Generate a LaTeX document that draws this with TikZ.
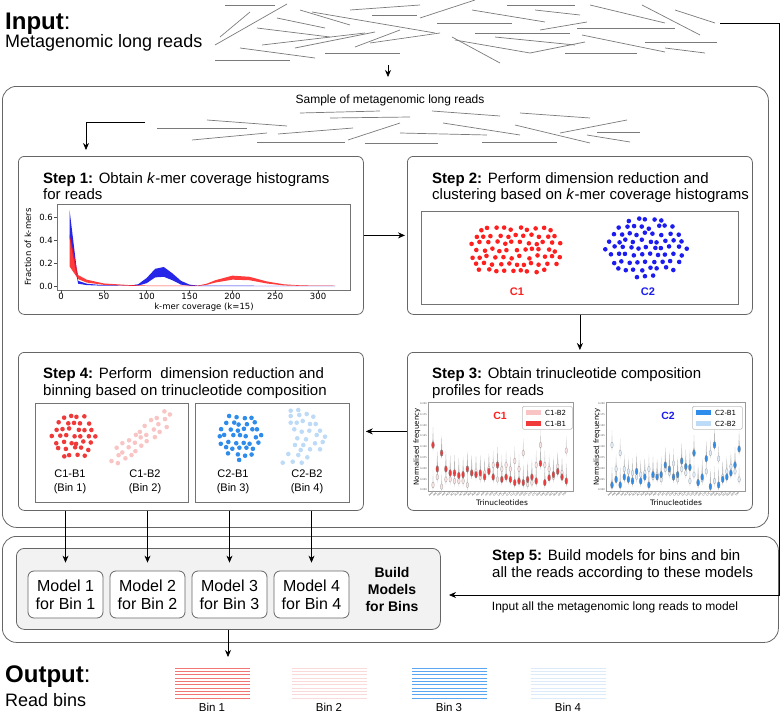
\documentclass[tikz,border=0pt]{standalone}
\usepackage{fontspec}
\setmainfont{Liberation Sans}
\newfontfamily\plotfont{DejaVu Sans}
\usetikzlibrary{arrows.meta,positioning,calc}

\definecolor{boxgrey}{HTML}{666666}
\definecolor{readgrey}{HTML}{7A7A7A}
\definecolor{cred}{HTML}{FF1F1F}
\definecolor{cblue}{HTML}{1C1CF0}
\definecolor{bred}{HTML}{F03A3A}
\definecolor{bpink}{HTML}{F8C4C4}
\definecolor{bblue}{HTML}{2E8CEB}
\definecolor{blight}{HTML}{BDDAF6}
\definecolor{buildfill}{HTML}{F2F2F2}

\tikzset{
  bigbox/.style={draw=boxgrey, line width=0.8pt, rounded corners=14pt, anchor=north west, inner sep=0pt},
  stepbox/.style={draw=boxgrey, line width=0.8pt, rounded corners=6pt, anchor=north west, inner sep=0pt, minimum width=345pt, minimum height=158pt},
  panel/.style={draw=black!55, line width=0.7pt, anchor=north west, inner sep=0pt},
  modelbox/.style={draw=boxgrey, line width=0.8pt, fill=white, rounded corners=6pt, minimum width=75pt, minimum height=47pt, align=center, inner sep=0pt, font={\fontsize{16}{18}\selectfont}},
  steptitle/.style={anchor=base west, inner sep=0pt, font={\fontsize{15}{17}\selectfont}},
  read/.style={draw=readgrey, line width=0.7pt},
  arr/.style={-{Stealth[length=7pt,width=6pt]}, line width=0.7pt, draw=black},
  speck/.style={fill=#1},
  ticklbl/.style={font={\plotfont\fontsize{8.5}{10}\selectfont}, inner sep=1pt},
  tinylbl/.style={font={\plotfont\fontsize{2.4}{3}\selectfont}, inner sep=0.3pt, text=black!70},
  smalllbl/.style={font={\plotfont\fontsize{7}{8}\selectfont}, inner sep=0pt},
  binlbl/.style={align=center, font={\fontsize{11}{14}\selectfont}},
}

% scatter of dots on a jittered hex grid: rx, ry, spacing, exponent, colour
\newcommand\dotblob[5]{%
  \foreach \gx in {-7,...,7}{
    \foreach \gy in {-7,...,7}{
      \pgfmathsetmacro\px{(\gx+0.5*abs(mod(\gy,2)))*#3+1.6*rand}
      \pgfmathsetmacro\py{\gy*#3*0.87+1.6*rand}
      \pgfmathtruncatemacro\inside{(abs(\px)/#1)^#4+(abs(\py)/#2)^#4<=1}
      \ifnum\inside=1 \fill[speck=#5] (\px,\py) circle[radius=2.3];\fi
    }}}

\begin{document}
\begin{tikzpicture}[x=1pt,y=-1pt]
\useasboundingbox (0,0) rectangle (780,712);
\pgfmathsetseed{11}

% input
\node[anchor=base west, inner sep=0pt, font={\fontsize{24}{26}\selectfont}] (inputhead) at (5,30) {\textbf{Input}:};
\node[anchor=base west, inner sep=0pt, font={\fontsize{18}{20}\selectfont}] (inputsub) at (5,47) {Metagenomic long reads};
\foreach \a/\b in {{225,5}/{275,5},{287,4}/{215,45},{250,12}/{220,37},{277,18}/{325,28},{300,10}/{350,25},
  {312,12}/{435,33},{350,10}/{420,5},{372,15}/{417,15},{420,18}/{475,0},{257,28}/{330,37},{262,45}/{365,33},
  {240,48}/{315,58},{215,60}/{290,60},{295,48}/{375,32},{325,53}/{400,53},{355,47}/{400,30},{370,43}/{440,33},
  {437,23}/{512,23},{452,37}/{500,63},{455,40}/{530,53},{472,10}/{545,22},{475,33}/{570,33},{495,37}/{575,45},
  {507,5}/{575,5},{535,10}/{580,15},{540,30}/{587,22},{530,53}/{585,42},{565,53}/{637,53},{577,28}/{675,28},
  {590,5}/{665,23},{582,35}/{665,52},{642,5}/{700,35},{645,42}/{717,42},{675,10}/{715,23},{665,48}/{705,53}}
  \draw[read] (\a) -- (\b);
\coordinate (inputend) at (720,23);
\coordinate (railtop) at (779,23);
\coordinate (readsbot) at (388,65);

% main box
\node[bigbox, minimum width=766pt, minimum height=441pt] (main) at (2,86) {};
\node[font={\fontsize{12}{14}\selectfont}] (sampletxt) at (390,100) {Sample of metagenomic long reads};
\foreach \a/\b in {{157,128}/{247,128},{207,120}/{287,126},{192,140}/{267,133},{257,142}/{345,142},
  {278,134}/{353,128},{348,140}/{400,123},{365,143}/{438,143},{400,133}/{487,135},{443,123}/{520,135},
  {482,142}/{557,142},{515,125}/{590,143},{560,133}/{627,120},{597,132}/{640,132},{587,135}/{630,142},
  {300,113}/{380,111},{330,118}/{410,117},{432,111}/{500,116},{520,113}/{590,118}}
  \draw[read] (\a) -- (\b);
\coordinate (samplestart) at (145,122);
\coordinate (s1in) at (86,150);

% step 1
\node[stepbox] (s1) at (18,156) {};
\node[steptitle] (t1a) at (43,183) {\textbf{Step 1:} Obtain \textit{k}-mer coverage histograms};
\node[steptitle] (t1b) at (43,199) {for reads};
\node[panel, minimum width=293pt, minimum height=86pt] (p1) at (57,204) {};
\begin{scope}[shift={(61,286)}, xscale=0.857, yscale=-115]
  \fill[blue!90!black, opacity=0.85] (10,0.66) -- (20,0.045) -- (30,0.02) -- (50,0.006) -- (80,0.003) -- (90,0.015)
    -- (100,0.07) -- (110,0.15) -- (120,0.165) -- (130,0.11) -- (140,0.045) -- (150,0.012) -- (160,0.003) -- (320,0.001)
    -- (320,0) -- (160,0) -- (150,0.002) -- (140,0.012) -- (130,0.05) -- (120,0.08) -- (110,0.075) -- (100,0.025)
    -- (90,0.003) -- (80,0) -- (50,0.002) -- (30,0.008) -- (20,0.02) -- (10,0.42) -- cycle;
  \fill[red!90, opacity=0.85] (10,0.45) -- (20,0.095) -- (30,0.055) -- (50,0.022) -- (80,0.008) -- (100,0.004) -- (160,0.004)
    -- (170,0.02) -- (180,0.05) -- (200,0.09) -- (220,0.08) -- (240,0.04) -- (260,0.015) -- (280,0.005) -- (320,0.002)
    -- (320,0) -- (280,0.001) -- (260,0.005) -- (240,0.022) -- (220,0.05) -- (200,0.055) -- (180,0.03) -- (170,0.01)
    -- (160,0) -- (100,0) -- (80,0.002) -- (50,0.01) -- (30,0.03) -- (20,0.06) -- (10,0.17) -- cycle;
\end{scope}
\foreach \v [count=\i] in {0.0,0.2,0.4,0.6}{
  \draw[black!70, line width=0.5pt] (57,{286-115*\v}) -- (54,{286-115*\v});
  \node[ticklbl, anchor=east] (y1\i) at (54,{286-115*\v}) {\v};
}
\foreach \c [count=\i] in {0,50,100,150,200,250,300}{
  \draw[black!70, line width=0.5pt] ({61+0.857*\c},290) -- ({61+0.857*\c},293);
  \node[ticklbl, anchor=north] (x1\i) at ({61+0.857*\c},292) {\c};
}
\node[ticklbl, rotate=90] (ylab1) at (28,247) {Fraction of k-mers};
\node[ticklbl] (xlab1) at (204,307) {k-mer coverage (k=15)};

% step 2
\node[stepbox] (s2) at (407,156) {};
\node[steptitle] (t2a) at (432,183) {\textbf{Step 2:} Perform dimension reduction and};
\node[steptitle] (t2b) at (432,199) {clustering based on \textit{k}-mer coverage histograms};
\node[panel, minimum width=317pt, minimum height=93pt] (p2) at (421,211) {};
\begin{scope}[shift={(516,250)}] \dotblob{47}{24}{8}{4}{cred} \end{scope}
\begin{scope}[shift={(646,248)}] \dotblob{42}{30}{8}{2}{cblue} \end{scope}
\node[text=cred, font={\fontsize{11}{12}\selectfont\bfseries}] (c1lbl) at (517,292) {C1};
\node[text=cblue, font={\fontsize{11}{12}\selectfont\bfseries}] (c2lbl) at (648,292) {C2};

% step 3
\node[stepbox] (s3) at (407,352) {};
\node[steptitle] (t3a) at (432,378) {\textbf{Step 3:} Obtain trinucleotide composition};
\node[steptitle] (t3b) at (432,395) {profiles for reads};
\node[panel, draw=black!40, minimum width=145pt, minimum height=89pt] (p3a) at (428,402) {};
\node[panel, draw=black!40, minimum width=139pt, minimum height=89pt] (p3b) at (606,402) {};
\begin{scope}[shift={(433,489)}]
\foreach \b/\a [count=\i from 0] in {.05/.55,.15/.25,.03/.45,.12/.25,.12/.2,.1/.2,.1/.17,.1/.18,.05/.25,.2/.2,.22/.18,
  .15/.2,.2/.15,.25/.22,.3/.15,.12/.3,.25/.12,.3/.15,.25/.12,.35/.08,.25/.1,.45/.08,.06/.12,.08/.15,.3/.1,.55/.32,
  .3/.08,.25/.14,.15/.18,.28/.22,.2/.15,.48/.1}{
  \pgfmathsetmacro\vx{\i*4.3}
  \fill[black!18] (\vx,{-\b*80+6}) -- (\vx+0.6,{-\b*80}) -- (\vx,{-\b*80-15}) -- (\vx-0.6,{-\b*80}) -- cycle;
  \fill[black!28] (\vx,{-\a*80+6}) -- (\vx+0.7,{-\a*80}) -- (\vx,{-\a*80-18}) -- (\vx-0.7,{-\a*80}) -- cycle;
  \filldraw[fill=bpink!50, draw=black!35, line width=0.3pt] (\vx,{-\b*80}) ellipse[x radius=1.3, y radius=2.8];
  \filldraw[fill=bred, draw=black!50, line width=0.3pt] (\vx,{-\a*80}) ellipse[x radius=1.4, y radius=3.3];
}
\end{scope}
\begin{scope}[shift={(612,489)}]
\foreach \b/\a [count=\i from 0] in {.55/.05,.25/.12,.45/.05,.25/.15,.22/.12,.2/.1,.15/.22,.18/.1,.2/.15,.25/.05,.15/.18,
  .18/.15,.12/.18,.25/.3,.2/.25,.32/.15,.12/.18,.25/.35,.2/.28,.1/.27,.18/.45,.08/.08,.12/.15,.22/.38,.45/.03,.1/.55,
  .38/.05,.15/.12,.22/.15,.28/.2,.22/.3,.12/.5}{
  \pgfmathsetmacro\vx{\i*4.1}
  \fill[black!18] (\vx,{-\b*80+6}) -- (\vx+0.6,{-\b*80}) -- (\vx,{-\b*80-15}) -- (\vx-0.6,{-\b*80}) -- cycle;
  \fill[black!28] (\vx,{-\a*80+6}) -- (\vx+0.7,{-\a*80}) -- (\vx,{-\a*80-18}) -- (\vx-0.7,{-\a*80}) -- cycle;
  \filldraw[fill=blight!50, draw=black!35, line width=0.3pt] (\vx,{-\b*80}) ellipse[x radius=1.3, y radius=2.8];
  \filldraw[fill=bblue, draw=black!50, line width=0.3pt] (\vx,{-\a*80}) ellipse[x radius=1.4, y radius=3.3];
}
\end{scope}
\foreach \t [count=\i from 0] in {AAA,AAC,AAG,AAT,ACA,ACC,ACG,ACT,AGA,AGC,AGG,AGT,ATA,ATC,ATG,CAA,
  CAC,CAG,CCA,CCC,CCG,CGA,CGC,CTA,CTC,GAA,GAC,GCA,GCC,GGA,GTA,TAA}{
  \node[tinylbl, rotate=45, anchor=east] (ta\i) at ({433+\i*4.3},492) {\t};
  \node[tinylbl, rotate=45, anchor=east] (tb\i) at ({612+\i*4.1},492) {\t};
}
\foreach \t [count=\i from 0] in {0.000,0.025,0.050,0.075,0.100,0.125,0.150,0.175,0.200}{
  \node[tinylbl, anchor=east] (ya\i) at (427.5,{490-\i*10.8}) {\t};
  \node[tinylbl, anchor=east] (yb\i) at (605.5,{490-\i*10.8}) {\t};
}
\node[smalllbl, rotate=90] (ylab3a) at (417,447) {Normalised frequency};
\node[smalllbl, rotate=90] (ylab3b) at (597,447) {Normalised frequency};
\node[smalllbl, font={\plotfont\fontsize{7.5}{8}\selectfont}] (xlab3a) at (502,503) {Trinucleotides};
\node[smalllbl, font={\plotfont\fontsize{7.5}{8}\selectfont}] (xlab3b) at (676,503) {Trinucleotides};
\node[text=cred, font={\fontsize{10.5}{12}\selectfont\bfseries}] (c1plot) at (500,416) {C1};
\node[text=cblue, font={\fontsize{10.5}{12}\selectfont\bfseries}] (c2plot) at (668,416) {C2};
\node[panel, draw=black!25, fill=white, rounded corners=1.5pt, minimum width=50pt, minimum height=23pt] (lg1) at (522,406) {};
\fill[bpink] (526,410) rectangle (541,415);
\fill[bred] (526,421) rectangle (541,426);
\node[smalllbl, anchor=west] (lg1a) at (545,412.5) {C1-B2};
\node[smalllbl, anchor=west] (lg1b) at (545,423.5) {C1-B1};
\node[panel, draw=black!25, fill=white, rounded corners=1.5pt, minimum width=50pt, minimum height=23pt] (lg2) at (692,406) {};
\fill[bblue] (696,410) rectangle (711,415);
\fill[blight] (696,421) rectangle (711,426);
\node[smalllbl, anchor=west] (lg2a) at (715,412.5) {C2-B1};
\node[smalllbl, anchor=west] (lg2b) at (715,423.5) {C2-B2};

% step 4
\node[stepbox] (s4) at (18,352) {};
\node[steptitle] (t4a) at (43,378) {\textbf{Step 4:} Perform~~dimension reduction and};
\node[steptitle] (t4b) at (43,395) {binning based on trinucleotide composition};
\node[panel, minimum width=153pt, minimum height=99pt] (p4a) at (35,403) {};
\node[panel, minimum width=154pt, minimum height=99pt] (p4b) at (195,403) {};
\begin{scope}[shift={(74,436)}] \dotblob{23}{24}{7.2}{2}{bred} \end{scope}
\begin{scope}[shift={(141,438)}, rotate=38] \dotblob{42}{12}{7.4}{2}{bpink} \end{scope}
\begin{scope}[shift={(240,436)}] \dotblob{23}{24}{7.2}{2}{bblue} \end{scope}
\foreach \p in {{290.7,410.7},{298.3,410},{290.7,416},{299.3,415},{306.7,414},{313.3,416.7},{290.7,422.7},
  {296.7,422.7},{302.7,421},{310,424},{315.7,424},{294.3,429.3},{301.7,431.7},{309.3,430.7},{320,430.7},
  {297.3,438.3},{306,439.3},{316.7,435},{325,436.7},{295,445},{303.3,445},{315,443.3},{322.7,442},
  {300.7,450},{310,449.3},{320,449.3},{288.3,454},{298.3,455},{307.3,457.3},{282.7,462.7},{292.7,461.7},{301.7,462.7}}
  \fill[speck=blight] (\p) circle[radius=2.3];
\node[binlbl] (b1lbl) at (70,482) {C1-B1\\(Bin 1)};
\node[binlbl] (b2lbl) at (145,482) {C1-B2\\(Bin 2)};
\node[binlbl] (b3lbl) at (233,482) {C2-B1\\(Bin 3)};
\node[binlbl] (b4lbl) at (307,482) {C2-B2\\(Bin 4)};

% step 5
\node[bigbox, minimum width=776pt, minimum height=106pt] (lower) at (2,536) {};
\node[panel, draw=boxgrey, line width=0.8pt, fill=buildfill, rounded corners=8pt, minimum width=424pt, minimum height=81pt] (build) at (16,548) {};
\node[modelbox] (m1) at (65.5,594.5) {Model 1\\for Bin 1};
\node[modelbox] (m2) at (147.5,594.5) {Model 2\\for Bin 2};
\node[modelbox] (m3) at (229.5,594.5) {Model 3\\for Bin 3};
\node[modelbox] (m4) at (311.5,594.5) {Model 4\\for Bin 4};
\node[align=center, font={\fontsize{14}{17}\selectfont\bfseries}] (buildlbl) at (392,589) {Build\\Models\\for Bins};
\node[steptitle] (t5a) at (492,560) {\textbf{Step 5:} Build models for bins and bin};
\node[steptitle] (t5b) at (492,577) {all the reads according to these models};
\node[font={\fontsize{12}{14}\selectfont}] (inputlbl) at (615,607) {Input all the metagenomic long reads to model};
\coordinate (modeltip) at (449,595);
\coordinate (outtip) at (228,657);

% output
\node[anchor=base west, inner sep=0pt, font={\fontsize{24}{26}\selectfont}] (outhead) at (5,682) {\textbf{Output}:};
\node[anchor=base west, inner sep=0pt, font={\fontsize{18}{20}\selectfont}] (outsub) at (5,706) {Read bins};
\foreach \x/\col/\n in {175/F07676/1,292/F9D9D9/2,412/5AA6F0/3,531/DCEAF9/4}{
  \definecolor{bincol}{HTML}{\col}
  \foreach \k in {0,...,9}
    \draw[bincol, line width=0.9pt] (\x,{668+\k*3.33}) -- ({\x+75},{668+\k*3.33});
  \node[anchor=base, font={\fontsize{11.5}{13}\selectfont}] (out\n) at ({\x+37},711) {Bin \n};
}

% connectors
\draw[arr] (readsbot) -- ([yshift=9pt]readsbot |- main.north);
\draw[arr] (samplestart) -| (s1in);
\draw[arr] (s1.east) -- ([xshift=-2pt]s2.west);
\draw[arr] (s2.south) -- ([yshift=2pt]s3.north);
\draw[arr] (s3.west) -- ([xshift=2pt]s4.east);
\foreach \m in {m1,m2,m3,m4}
  \draw[arr] (s4.south -| \m.north) -- ([yshift=8pt]\m.north);
\draw[arr] (inputend) -- (railtop) |- (modeltip);
\draw[arr] (build.south -| outtip) -- (outtip);
\end{tikzpicture}
\end{document}
